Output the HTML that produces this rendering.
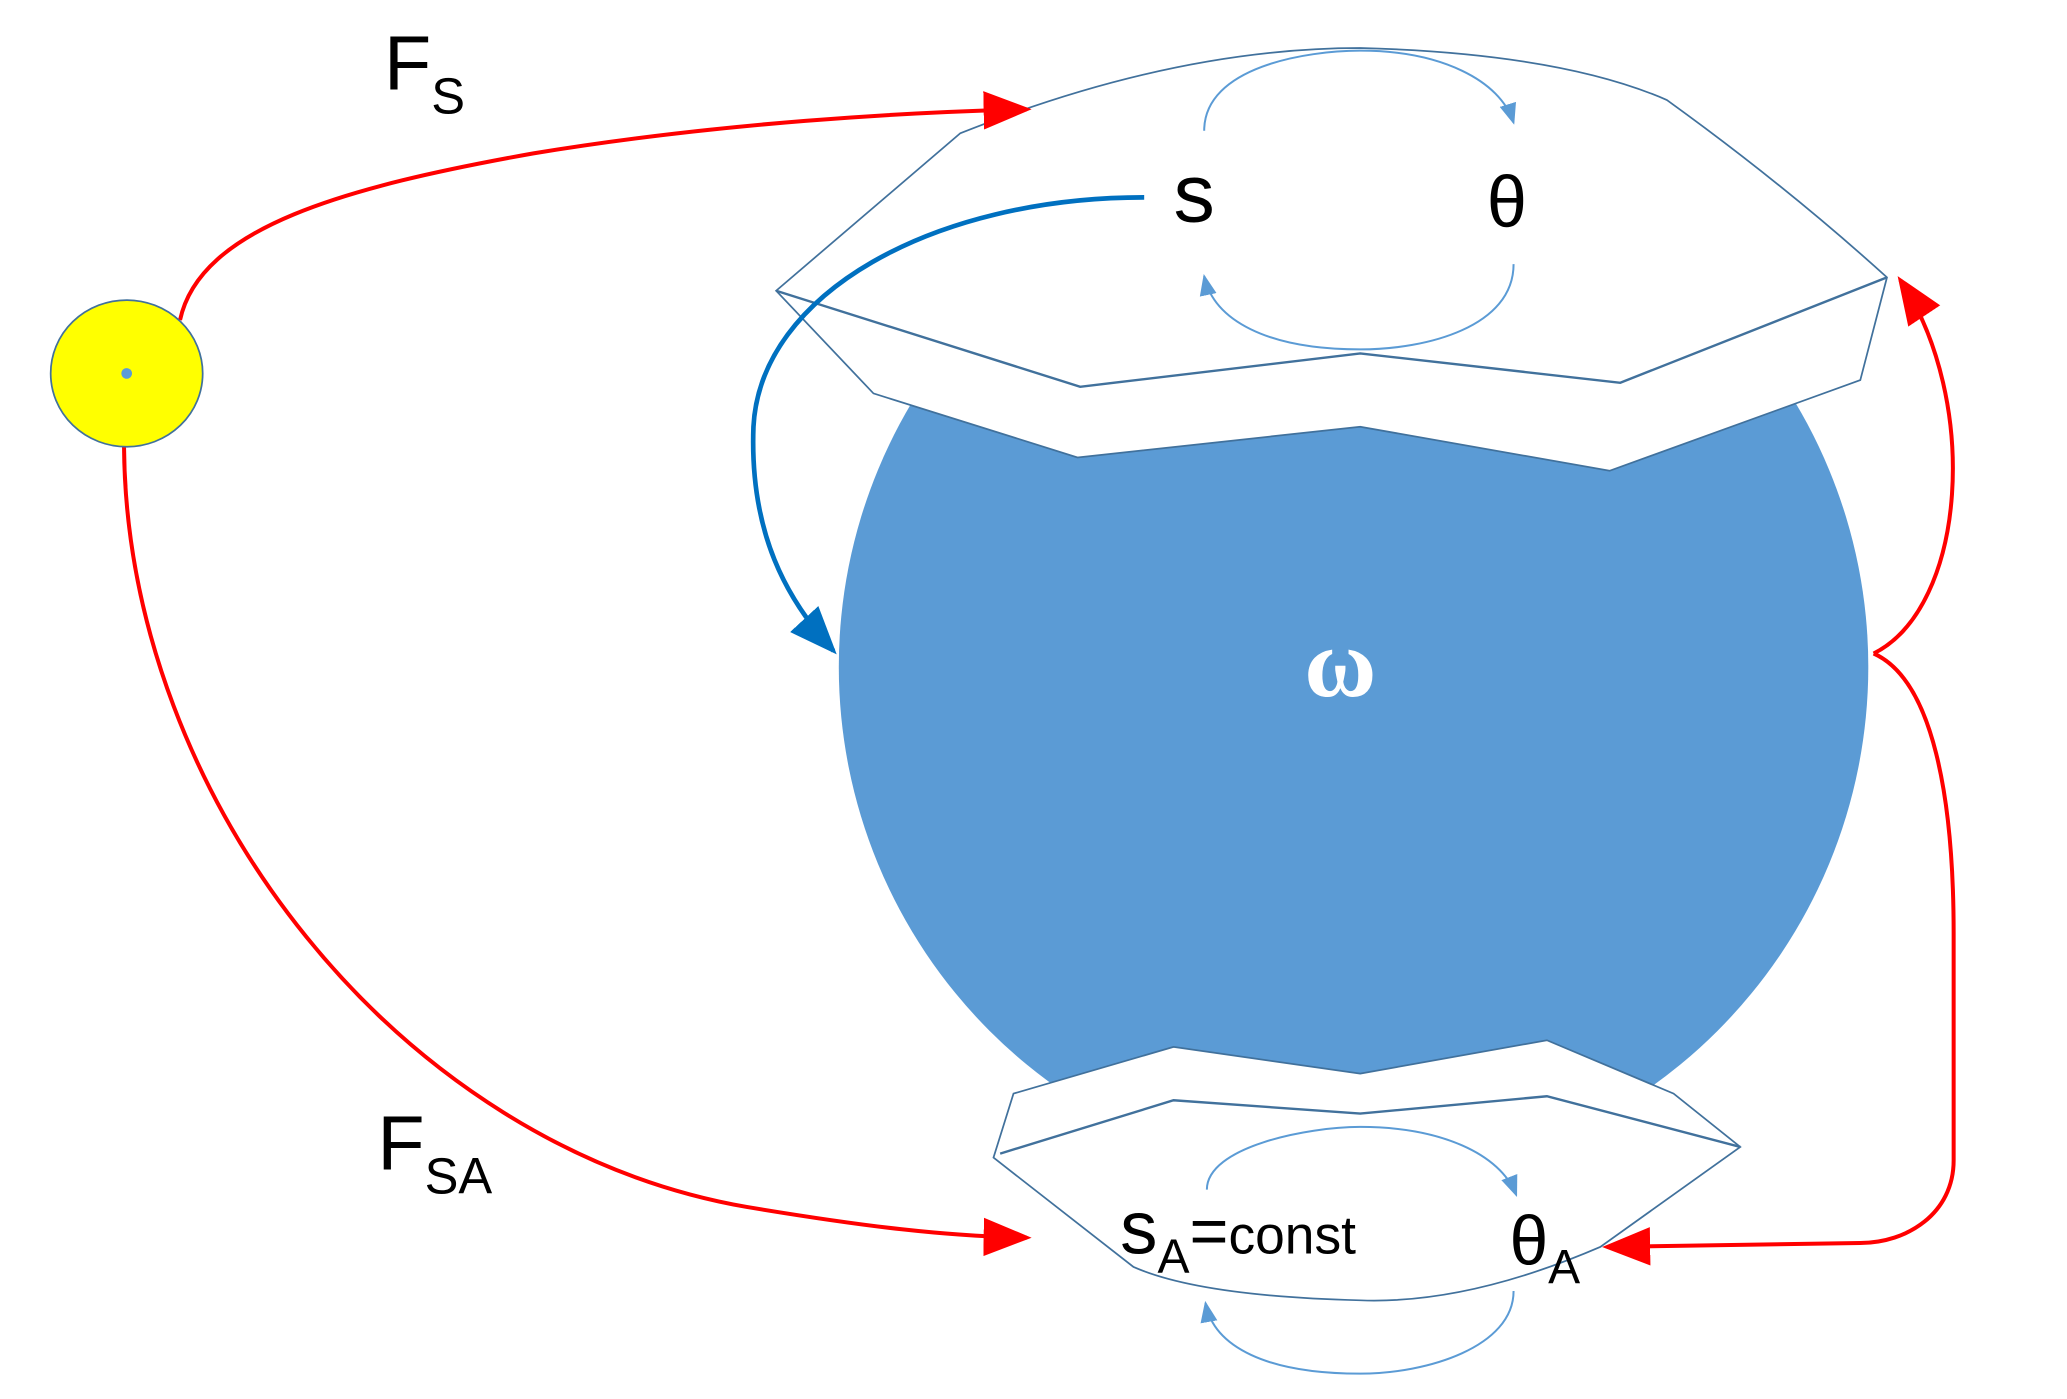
<!DOCTYPE html>
<html><head><meta charset="utf-8"><style>
html,body{margin:0;padding:0;background:#fff;overflow:hidden}
svg{display:block}
text{font-family:"Liberation Sans","DejaVu Sans",sans-serif}
</style></head><body>
<svg width="2067" height="1399" viewBox="0 0 1550 1049" preserveAspectRatio="none" xmlns="http://www.w3.org/2000/svg">
<defs>
<marker id="arR" viewBox="0 0 10 10" refX="9" refY="5" markerWidth="36" markerHeight="36" markerUnits="userSpaceOnUse" orient="auto"><path d="M0,1 L10,5 L0,9 z" fill="#ff0000"/></marker>
<marker id="arB" viewBox="0 0 10 10" refX="9" refY="5" markerWidth="36" markerHeight="36" markerUnits="userSpaceOnUse" orient="auto"><path d="M0,1 L10,5 L0,9 z" fill="#0070c0"/></marker>
<marker id="arL" viewBox="0 0 10 10" refX="9" refY="5" markerWidth="16" markerHeight="16" markerUnits="userSpaceOnUse" orient="auto"><path d="M0,1 L10,5 L0,9 z" fill="#5b9bd5"/></marker>
</defs>

<circle cx="1015" cy="500" r="386" fill="#5b9bd5"/>

<path d="M582,218 L720,100 Q880,36 1020,36 Q1170,40 1250,75 Q1340,140 1415,208 L1395,285 L1207,353 L1020,320 L808,343 L655,295 Z" fill="#fff" stroke="#41719c" stroke-width="1.3"/>
<path d="M582,218 L810,290 L1020,265 L1215,287 L1415,208" fill="none" stroke="#41719c" stroke-width="1.8"/>

<path d="M760,820 L880,785 L1020,805 L1160,780 L1255,820 L1305,860 L1200,935 Q1100,978 1020,975 Q900,972 850,950 L745,868 Z" fill="#fff" stroke="#41719c" stroke-width="1.3"/>
<path d="M750,865 L880,825 L1020,835 L1160,822 L1305,860" fill="none" stroke="#41719c" stroke-width="1.8"/>

<path d="M903,98 C903,50 980,38 1020,38 C1080,38 1125,60 1135,92" fill="none" stroke="#5b9bd5" stroke-width="1.5" marker-end="url(#arL)"/>
<path d="M1135,198 C1135,245 1070,262 1020,262 C950,262 910,240 903,207" fill="none" stroke="#5b9bd5" stroke-width="1.5" marker-end="url(#arL)"/>
<path d="M905,892 C905,860 980,845 1020,845 C1080,845 1125,865 1137,896" fill="none" stroke="#5b9bd5" stroke-width="1.5" marker-end="url(#arL)"/>
<path d="M1135,968 C1135,1010 1070,1030 1020,1030 C950,1030 910,1010 904,977" fill="none" stroke="#5b9bd5" stroke-width="1.5" marker-end="url(#arL)"/>

<path d="M135,240 C150,170 260,140 400,115 C540,92 680,84 770,82" fill="none" stroke="#ff0000" stroke-width="3" marker-end="url(#arR)"/>
<path d="M93,335 C95,600 300,860 560,905 C650,920 710,927 770,928" fill="none" stroke="#ff0000" stroke-width="3" marker-end="url(#arR)"/>
<path d="M1405,490 C1475,455 1485,300 1425,210" fill="none" stroke="#ff0000" stroke-width="3" marker-end="url(#arR)"/>
<path d="M1405,490 C1450,510 1465,600 1465,700 L1465,870 C1465,910 1430,932 1395,932 L1205,935" fill="none" stroke="#ff0000" stroke-width="3" marker-end="url(#arR)"/>

<path d="M858,148 C700,148 570,220 565,320 C562,400 590,450 625,488" fill="none" stroke="#0070c0" stroke-width="3.5" marker-end="url(#arB)"/>

<ellipse cx="95" cy="280" rx="57" ry="55" fill="#ffff00" stroke="#41719c" stroke-width="1.3"/>
<circle cx="95" cy="280" r="4" fill="#5b9bd5"/>

<text x="288" y="67" font-size="58" fill="#000">F<tspan font-size="38" dy="18">S</tspan></text>
<text x="283" y="877" font-size="58" fill="#000">F<tspan font-size="38" dy="18">SA</tspan></text>
<text x="880" y="166" font-size="62" fill="#000">s</text>
<text x="1115" y="170" font-size="54" fill="#000">θ</text>
<text x="978" y="522" font-size="74" font-weight="bold" fill="#fff" style="font-family:'Liberation Serif','DejaVu Serif',serif">ω</text>
<text x="840" y="940" font-size="56" fill="#000">s<tspan font-size="36" dy="14">A</tspan><tspan dy="-14" font-size="50">=</tspan><tspan font-size="40">const</tspan></text>
<text x="1132" y="948" font-size="52" fill="#000">θ<tspan font-size="36" dy="14">A</tspan></text>
</svg>
</body></html>
